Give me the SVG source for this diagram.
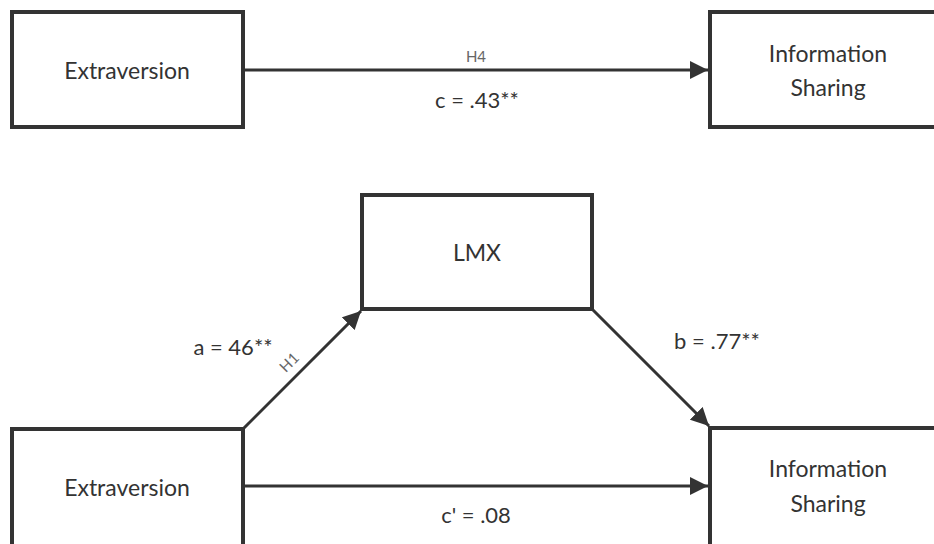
<svg xmlns="http://www.w3.org/2000/svg" width="934" height="544" viewBox="0 0 934 544">
<style>
.box{fill:#fff;stroke:#333;stroke-width:4}
.lbl{font-family:Lato,"Liberation Sans",sans-serif;font-size:23px;fill:#333;text-anchor:middle;dominant-baseline:central}
.edge{stroke:#333;stroke-width:3;fill:none}
.h{font-family:Lato,"Liberation Sans",sans-serif;font-size:15px;fill:#666;text-anchor:middle}
.coef{font-family:Lato,"Liberation Sans",sans-serif;font-size:22px;fill:#333;text-anchor:middle}
</style>
<defs>
<marker id="arr" markerWidth="6" markerHeight="6" refX="6" refY="3" orient="auto" markerUnits="strokeWidth">
<path d="M0,0 L6,3 L0,6 Z" fill="#333"/>
</marker>
</defs>
<rect width="934" height="544" fill="#fff"/>
<g id="connectors">
<line class="edge" x1="243" y1="70" x2="708" y2="70" marker-end="url(#arr)"/>
<line class="edge" x1="243" y1="486" x2="708" y2="486" marker-end="url(#arr)"/>
<line class="edge" x1="243" y1="429" x2="361" y2="311" marker-end="url(#arr)"/>
<line class="edge" x1="592" y1="309" x2="709" y2="426" marker-end="url(#arr)"/>
<text class="h" x="476" y="62">H4</text>
<text class="coef" x="477" y="108">c = .43**</text>
<text class="coef" x="476" y="523">c' = .08</text>
<text class="coef" x="233" y="355">a = 46**</text>
<text class="coef" x="717" y="349">b = .77**</text>
<text class="h" transform="translate(293,366) rotate(-45)">H1</text>
</g>
<g id="n1"><rect class="box" x="12" y="12" width="231" height="115"/><text class="lbl" x="127" y="70">Extraversion</text></g>
<g id="n2"><rect class="box" x="710" y="12" width="234" height="115"/><text class="lbl" x="828" y="53">Information</text><text class="lbl" x="828" y="87">Sharing</text></g>
<g id="n3"><rect class="box" x="362" y="195" width="230" height="114"/><text class="lbl" x="477" y="252">LMX</text></g>
<g id="n4"><rect class="box" x="12" y="429" width="231" height="120"/><text class="lbl" x="127" y="487">Extraversion</text></g>
<g id="n5"><rect class="box" x="710" y="428" width="234" height="120"/><text class="lbl" x="828" y="468">Information</text><text class="lbl" x="828" y="503">Sharing</text></g>
</svg>
